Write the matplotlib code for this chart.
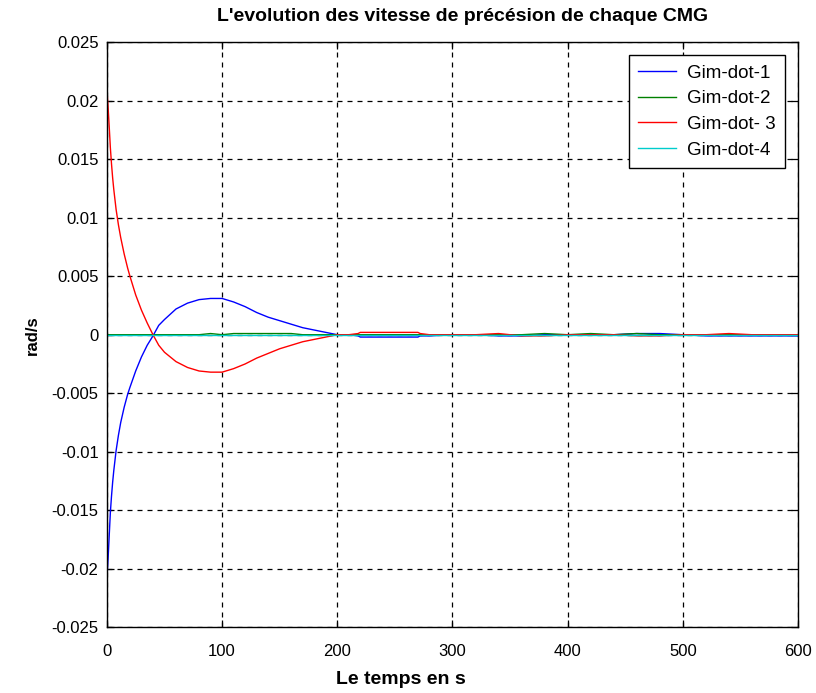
#!/usr/bin/env python3

import matplotlib
matplotlib.use("Agg")
import matplotlib.pyplot as plt


# time axis (s) and precession rates of each CMG (rad/s)
t = [0, 1, 2, 3, 4, 5, 6, 8, 10, 12, 15, 18, 20, 25, 30, 35, 40, 45, 50,
     60, 70, 80, 90, 100, 110, 120, 130, 140, 150, 160, 170, 180, 190, 200,
     210, 218, 220, 270, 272, 280, 300, 320, 340, 360, 380, 400, 420, 440,
     460, 480, 500, 520, 540, 560, 580, 600]

gim_dot_1 = [-0.0208, -0.0192, -0.0172, -0.0152, -0.0138, -0.0126, -0.0116,
             -0.0099, -0.0086, -0.0075, -0.0062, -0.0051, -0.0045, -0.0031,
             -0.0019, -0.0009, -0.0001, 0.0008, 0.0013, 0.0022, 0.0027,
             0.0030, 0.0031, 0.0031, 0.0028, 0.0024, 0.0019, 0.0015, 0.0012,
             0.0009, 0.0006, 0.0004, 0.0002, 0.0, 0.0, -0.0001, -0.0002,
             -0.0002, -0.0001, -0.0001, 0.0, 0.0, -0.0001, -0.0001, 0.0, 0.0,
             0.0, 0.0, 0.0001, 0.0001, 0.0, -0.0001, -0.0001, -0.0001,
             -0.0001, -0.0001]

gim_dot_2 = [0.0001, 0.0, 0.0, 0.0, 0.0, 0.0, 0.0, 0.0, 0.0, 0.0, 0.0, 0.0,
             0.0, 0.0, 0.0, 0.0, 0.0, 0.0, 0.0, 0.0, 0.0, 0.0, 0.0001, 0.0,
             0.0001, 0.0001, 0.0001, 0.0001, 0.0001, 0.0001, 0.0, 0.0, 0.0,
             0.0, 0.0, 0.0, 0.0, 0.0, 0.0, 0.0, 0.0, 0.0, 0.0, 0.0, 0.0001,
             0.0, 0.0001, 0.0, 0.0001, 0.0, 0.0, 0.0, 0.0, 0.0, 0.0, 0.0]

gim_dot_3 = [0.0210, 0.0195, 0.0178, 0.0160, 0.0146, 0.0134, 0.0124, 0.0107,
             0.0094, 0.0083, 0.0069, 0.0057, 0.0050, 0.0034, 0.0021, 0.0010,
             0.0, -0.0009, -0.0015, -0.0023, -0.0028, -0.0031, -0.0032,
             -0.0032, -0.0029, -0.0025, -0.0020, -0.0016, -0.0012, -0.0009,
             -0.0006, -0.0004, -0.0002, 0.0, 0.0, 0.0001, 0.0002, 0.0002,
             0.0001, 0.0, 0.0, 0.0, 0.0001, -0.0001, -0.0001, 0.0, 0.0, 0.0,
             -0.0001, -0.0001, 0.0, 0.0, 0.0001, 0.0, 0.0, 0.0]

gim_dot_4 = [0.0] * len(t)

labels = ["Gim-dot-1", "Gim-dot-2", "Gim-dot- 3", "Gim-dot-4"]
colors = ["#0000ff", "#008000", "#ff0000", "#00cccc"]

yticks = [0.025, 0.02, 0.015, 0.01, 0.005, 0, -0.005, -0.01, -0.015, -0.02, -0.025]
ytick_labels = ["0.025", "0.02", "0.015", "0.01", "0.005", "0", "-0.005",
                "-0.01", "-0.015", "-0.02", "-0.025"]
xticks = [0, 100, 200, 300, 400, 500, 600]


def main() -> None:
    plt.rcParams["font.family"] = ["Liberation Sans", "DejaVu Sans"]

    fig = plt.figure(figsize=(8.16, 6.93), dpi=100)
    ax = fig.add_axes([0.131, 0.095, 0.847, 0.844])

    for y, lab, col in zip([gim_dot_1, gim_dot_2, gim_dot_3, gim_dot_4], labels, colors):
        ax.plot(t, y, color=col, lw=1.0, label=lab)

    ax.set_xlim(0, 600)
    ax.set_ylim(-0.025, 0.025)
    ax.set_xticks(xticks)
    ax.set_xticklabels([str(v) for v in xticks])
    ax.set_yticks(yticks)
    ax.set_yticklabels(ytick_labels)

    ax.grid(True, color="black", linestyle=(0, (4, 4)), linewidth=0.9)
    ax.tick_params(direction="in", length=5, width=0.9, top=True, right=True,
                   labelsize=12)
    ax.tick_params(axis="x", pad=12)
    ax.tick_params(axis="y", pad=6)
    for sp in ax.spines.values():
        sp.set_linewidth(1.0)

    ax.set_title("L'evolution des vitesse de précésion de chaque CMG",
                 fontsize=14, fontweight="bold", pad=15, x=0.515)
    ax.set_xlabel("Le temps en s", fontsize=14, fontweight="bold")
    ax.xaxis.set_label_coords(0.426, -0.075)
    ax.set_ylabel("rad/s", fontsize=12, fontweight="bold", labelpad=8)

    leg = ax.legend(loc="upper right", fontsize=13.5, fancybox=False,
                    framealpha=1, edgecolor="black", handlelength=2.0,
                    handletextpad=0.6, borderpad=0.5, borderaxespad=0.7,
                    labelspacing=0.45)
    leg.get_frame().set_linewidth(1.0)

    fig.savefig("out.png", dpi=100)


if __name__ == "__main__":
    main()
